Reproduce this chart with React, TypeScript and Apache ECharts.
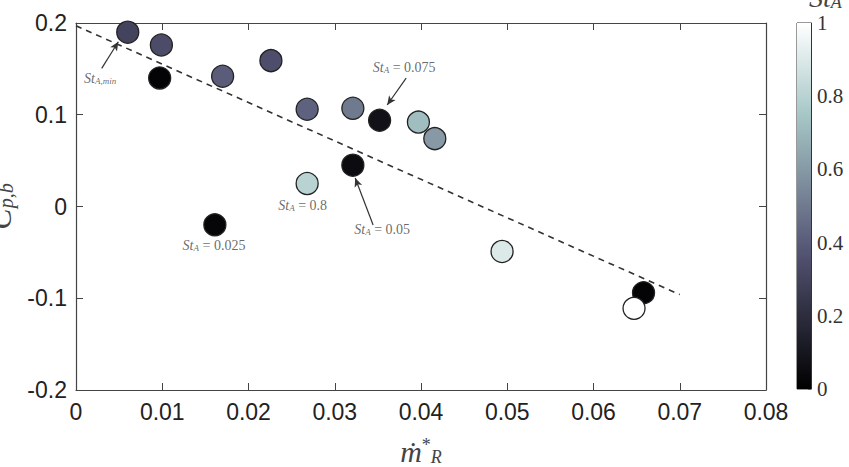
import React, { useEffect, useRef } from "react";
import * as echarts from "echarts";

// data
const mdot = [0.006, 0.0099, 0.0097, 0.017, 0.0226, 0.0268, 0.0321, 0.0352, 0.0397, 0.0416, 0.0321, 0.0268, 0.0161, 0.0494, 0.0658, 0.0647];
const cpb = [0.19, 0.176, 0.14, 0.142, 0.159, 0.106, 0.107, 0.094, 0.092, 0.074, 0.045, 0.025, -0.02, -0.049, -0.094, -0.111];
const stA = [0.3, 0.34, 0.02, 0.4, 0.35, 0.42, 0.5, 0.075, 0.72, 0.6, 0.05, 0.8, 0.025, 0.9, 0.02, 1.0];

const fitX = [0, 0.07];
const fitY = [0.197, -0.096];

const annLabels = ["min", "0.075", "0.8", "0.05", "0.025"];
const annX = [0.0028, 0.03805, 0.02628, 0.0355, 0.016];
const annY = [0.139, 0.151, 0.0016, -0.0256, -0.042];

const arrowFromX = [0.00298, 0.03828, 0.03445];
const arrowFromY = [0.1506, 0.14, -0.0202];
const arrowToX = [0.00491, 0.03608, 0.03237];
const arrowToY = [0.1796, 0.1106, 0.0311];

const xTicks = { min: 0, max: 0.08, interval: 0.01 };
const yTicks = { min: -0.2, max: 0.2, interval: 0.1 };
const cbTicks = { min: 0, max: 1, interval: 0.2 };

// MATLAB "bone" colormap sampled evenly
const bone = ["#000000", "#1c1c27", "#38384d", "#545474", "#707a8f", "#8ba1ab", "#a7c7c7", "#d3e3e3", "#ffffff"];

const SANS = "'Liberation Sans', Arial, sans-serif";
const SERIF = "'Liberation Serif', 'DejaVu Serif', serif";
const AX = "#444";

export default function App() {
  const ref = useRef<HTMLDivElement>(null);
  useEffect(() => {
    const chart = echarts.init(ref.current!, null, { renderer: "svg" });
    const annRich = {
      i: { fontFamily: SERIF, fontStyle: "italic", fontSize: 14, color: "#444" },
      s: { fontFamily: SERIF, fontStyle: "italic", fontSize: 9, color: "#444", verticalAlign: "bottom" },
      n: { fontFamily: SERIF, fontSize: 14, color: "#444" },
    };
    const option: any = {
      animation: false,
      backgroundColor: "#fff",
      grid: [
        { left: 76, top: 23, width: 690, height: 367, show: false, containLabel: false, outerBoundsMode: "none" },
        { left: 797, top: 23, width: 14, height: 366, show: true, borderColor: "#333", borderWidth: 1, containLabel: false, outerBoundsMode: "none" },
      ],
      xAxis: [
        {
          type: "value", gridIndex: 0, ...xTicks, position: "bottom",
          axisLine: { show: true, onZero: false, lineStyle: { color: AX, width: 1.2 } },
          axisTick: { show: true, inside: true, length: 7, lineStyle: { color: AX } },
          axisLabel: { fontFamily: SANS, fontSize: 23, color: "#222", margin: 10 },
          splitLine: { show: false },
          name: "{m|ṁ}{sup|*}{sub|R}",
          nameLocation: "middle",
          nameGap: 46,
          nameTextStyle: {
            rich: {
              m: { fontFamily: SERIF, fontStyle: "italic", fontSize: 30, color: "#444" },
              sup: { fontFamily: SERIF, fontSize: 18, color: "#444", verticalAlign: "top" },
              sub: { fontFamily: SERIF, fontStyle: "italic", fontSize: 18, color: "#444", verticalAlign: "bottom" },
            },
          },
        },
        {
          type: "value", gridIndex: 0, ...xTicks, position: "top",
          axisLine: { show: true, onZero: false, lineStyle: { color: AX, width: 1.2 } },
          axisTick: { show: true, inside: true, length: 7, lineStyle: { color: AX } },
          axisLabel: { show: false },
          splitLine: { show: false },
        },
        { type: "category", gridIndex: 1, data: ["c"], show: false },
      ],
      yAxis: [
        {
          type: "value", gridIndex: 0, ...yTicks, position: "left",
          axisLine: { show: true, onZero: false, lineStyle: { color: AX, width: 1.2 } },
          axisTick: { show: true, inside: true, length: 7, lineStyle: { color: AX } },
          axisLabel: { fontFamily: SANS, fontSize: 23, color: "#222", margin: 9, formatter: (v: number) => String(Math.round(v * 10) / 10) },
          splitLine: { show: false },
          name: "{c|C}{sub|p,b}",
          nameLocation: "middle",
          nameGap: 56,
          nameTextStyle: {
            rich: {
              c: { fontFamily: SERIF, fontStyle: "italic", fontSize: 32, color: "#444" },
              sub: { fontFamily: SERIF, fontStyle: "italic", fontSize: 20, color: "#444", verticalAlign: "bottom" },
            },
          },
        },
        {
          type: "value", gridIndex: 0, ...yTicks, position: "right",
          axisLine: { show: true, onZero: false, lineStyle: { color: AX, width: 1.2 } },
          axisTick: { show: true, inside: true, length: 7, lineStyle: { color: AX } },
          axisLabel: { show: false },
          splitLine: { show: false },
        },
        {
          type: "value", gridIndex: 1, ...cbTicks, position: "right",
          axisLine: { show: true, lineStyle: { color: "#333" } },
          axisTick: { show: true, inside: true, length: 3, lineStyle: { color: "#666" } },
          axisLabel: { fontFamily: SERIF, fontSize: 21, color: "#333", margin: 6 },
          splitLine: { show: false },
          name: "{i|St}{s|A}",
          nameLocation: "end",
          nameGap: 12,
          nameTextStyle: {
            align: "left",
            padding: [0, 0, 0, -2],
            rich: {
              i: { fontFamily: SERIF, fontStyle: "italic", fontSize: 28, color: "#444" },
              s: { fontFamily: SERIF, fontStyle: "italic", fontSize: 18, color: "#444", verticalAlign: "bottom" },
            },
          },
        },
      ],
      visualMap: {
        type: "continuous", show: false, min: 0, max: 1, dimension: 2, seriesIndex: 0,
        inRange: { color: bone },
      },
      series: [
        {
          type: "scatter", xAxisIndex: 0, yAxisIndex: 0, z: 5,
          symbol: "circle", symbolSize: 22,
          itemStyle: { borderColor: "#222", borderWidth: 1.3, opacity: 1 },
          data: mdot.map((x, i) => [x, cpb[i], stA[i]]),
        },
        {
          type: "line", xAxisIndex: 0, yAxisIndex: 0, z: 3,
          symbol: "none",
          lineStyle: { color: "#333", width: 1.6, type: [6, 5] },
          data: fitX.map((x, i) => [x, fitY[i]]),
        },
        {
          type: "scatter", xAxisIndex: 0, yAxisIndex: 0, z: 6,
          symbolSize: 1,
          itemStyle: { color: "rgba(0,0,0,0)" },
          label: {
            show: true, position: "inside",
            color: "#444", textBorderWidth: 0, textBorderColor: "transparent",
            formatter: (p: any) => {
              const t = annLabels[p.dataIndex];
              return t === "min" ? "{i|St}{s|A,min}" : "{i|St}{s|A}{n| = " + t + "}";
            },
            rich: annRich,
          },
          data: annX.map((x, i) => [x, annY[i]]),
          markLine: {
            silent: true,
            symbol: ["none", "arrow"],
            symbolSize: [6, 9],
            label: { show: false },
            lineStyle: { color: "#333", width: 1.2, type: "solid" },
            data: arrowFromX.map((x, i) => [
              { coord: [x, arrowFromY[i]] },
              { coord: [arrowToX[i], arrowToY[i]] },
            ]),
          },
        },
        {
          type: "bar", xAxisIndex: 2, yAxisIndex: 2, barWidth: "100%",
          itemStyle: {
            color: {
              type: "linear", x: 0, y: 1, x2: 0, y2: 0,
              colorStops: bone.map((c, i) => ({ offset: i / (bone.length - 1), color: c })),
            },
          },
          data: [cbTicks.max],
        },
      ],
    };
    chart.setOption(option);
    return () => chart.dispose();
  }, []);
  return <div ref={ref} style={{ position: "absolute", left: 0, top: 0, width: 849, height: 467, background: "#fff" }} />;
}
